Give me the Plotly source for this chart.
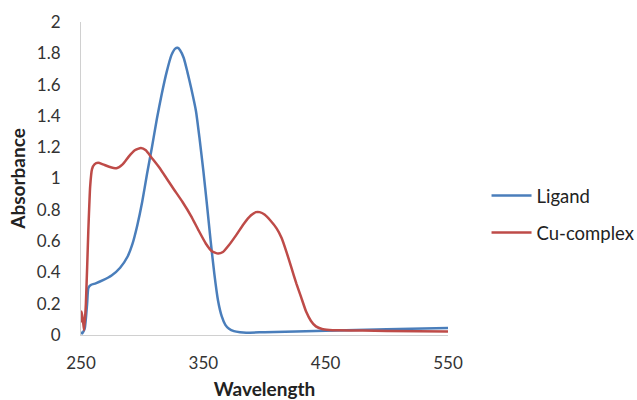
import plotly.graph_objects as go

# Ligand spectrum (wavelength nm, absorbance)
ligand_wl = [250, 251, 253, 255, 256, 258, 262, 268, 275, 282, 288, 292, 296, 300, 304, 308, 312, 316, 320, 324, 327, 329, 331, 334, 337, 340, 344, 347, 350, 353, 356, 359, 362, 365, 368, 371, 375, 380, 385, 400, 450, 500, 550]
ligand_abs = [0.02, 0.01, 0.04, 0.2, 0.3, 0.32, 0.33, 0.35, 0.38, 0.43, 0.5, 0.58, 0.7, 0.85, 1.03, 1.2, 1.38, 1.54, 1.68, 1.79, 1.83, 1.835, 1.82, 1.77, 1.68, 1.58, 1.43, 1.25, 1.05, 0.83, 0.6, 0.39, 0.22, 0.12, 0.065, 0.04, 0.025, 0.018, 0.015, 0.018, 0.027, 0.037, 0.045]

# Cu-complex spectrum
cu_wl = [250, 250.5, 251.5, 252.5, 254, 256, 257.5, 259, 261, 264, 268, 273, 279, 284, 289, 294, 299, 303, 308, 314, 320, 326, 333, 340, 346, 352, 357, 362, 366, 371, 377, 383, 389, 393, 396, 400, 405, 410, 414, 418, 422, 426, 430, 434, 438, 442, 447, 453, 460, 480, 500, 550]
cu_abs = [0.08, 0.15, 0.1, 0.03, 0.2, 0.67, 0.95, 1.06, 1.09, 1.1, 1.09, 1.075, 1.065, 1.09, 1.14, 1.18, 1.195, 1.18, 1.13, 1.07, 1.0, 0.93, 0.85, 0.76, 0.67, 0.585, 0.535, 0.52, 0.53, 0.575, 0.64, 0.71, 0.765, 0.785, 0.785, 0.77, 0.73, 0.68, 0.62, 0.53, 0.43, 0.33, 0.24, 0.15, 0.09, 0.055, 0.038, 0.032, 0.03, 0.028, 0.026, 0.022]

x_ticks = [250, 350, 450, 550]

fig = go.Figure()
fig.add_trace(go.Scatter(x=ligand_wl, y=ligand_abs, mode="lines", name="Ligand", legendgroup="a",
                         line=dict(color="#4A7EBB", width=2.5, shape="spline", smoothing=0.5)))
fig.add_trace(go.Scatter(x=cu_wl, y=cu_abs, mode="lines", name="Cu-complex", legendgroup="b",
                         line=dict(color="#BE4B48", width=2.5, shape="spline", smoothing=0.5)))

font_family = "Lato, Open Sans, sans-serif"
fig.update_layout(
    width=637, height=400,
    margin=dict(l=81, r=189, t=22, b=65, autoexpand=False),
    paper_bgcolor="white", plot_bgcolor="white",
    font=dict(family=font_family, size=17, color="#333333"),
    showlegend=True,
    legend=dict(x=1.105, y=0.385, xanchor="left", yanchor="middle",
                font=dict(size=18.5, color="#222222"), traceorder="grouped", tracegroupgap=10,
                itemwidth=40, bgcolor="rgba(0,0,0,0)"),
    xaxis=dict(range=[250, 550], tickvals=x_ticks, ticktext=[str(v) for v in x_ticks],
               showgrid=False, zeroline=False, showline=True, linecolor="#d0d0d0", linewidth=1,
               ticks="", ticklabelstandoff=13, automargin=False,
               title=dict(text="<b>Wavelength</b>", font=dict(size=19, color="#222222"), standoff=15)),
    yaxis=dict(range=[0, 2], dtick=0.2, tick0=0,
               showgrid=False, zeroline=False, showline=True, linecolor="#d0d0d0", linewidth=1,
               ticks="", ticklabelstandoff=16, automargin=False,
               title=dict(text="<b>Absorbance</b>", font=dict(size=19, color="#222222"), standoff=6)),
)

fig.write_html("out.html")
